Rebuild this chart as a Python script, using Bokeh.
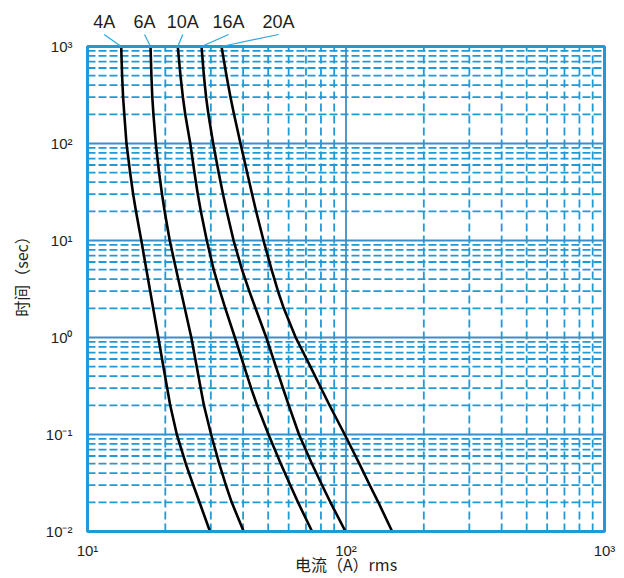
import numpy as np
from bokeh.plotting import figure
from bokeh.models import FixedTicker, CustomJSTickFormatter, Range1d
from bokeh.core.properties import value
from bokeh.embed import file_html
from bokeh.resources import INLINE

# ---------------- data ----------------
time_s = [1000, 500, 300, 200, 100, 50, 30, 20, 10, 5, 3, 2, 1,
          0.5, 0.3, 0.2, 0.1, 0.05, 0.03, 0.02, 0.01]
current_4A = [13.50, 13.61, 13.73, 13.88, 14.15, 14.62, 15.02, 15.40, 16.15, 16.90, 17.48,
              17.95, 18.79, 19.66, 20.34, 20.89, 22.16, 24.00, 25.66, 27.12, 29.78]
current_6A = [17.53, 17.67, 17.81, 17.99, 18.37, 18.92, 19.42, 19.88, 20.80, 22.03, 22.99,
              23.79, 25.21, 26.46, 27.41, 28.20, 30.07, 32.32, 34.31, 36.13, 40.21]
current_10A = [22.35, 22.89, 23.39, 23.88, 24.98, 25.93, 26.71, 27.44, 28.94, 30.77, 32.55,
               34.13, 37.17, 40.39, 42.95, 45.30, 50.13, 55.95, 60.89, 65.21, 73.94]
current_16A = [27.61, 28.20, 28.76, 29.36, 30.63, 32.17, 33.44, 34.56, 36.74, 39.60, 42.27,
               44.67, 49.16, 53.56, 57.05, 60.07, 65.80, 73.80, 80.84, 87.03, 99.56]
current_20A = [32.99, 34.49, 35.74, 36.88, 39.07, 41.48, 43.33, 44.90, 47.96, 51.54, 54.57,
               57.46, 63.89, 72.83, 80.11, 86.35, 98.85, 112.6, 123.6, 133.4, 150.9]
series_names = ["4A", "6A", "10A", "16A", "20A"]
series_values = [current_4A, current_6A, current_10A, current_16A, current_20A]

x_limits = (10, 1000)
y_limits = (0.01, 1000)
x_major = [10, 100, 1000]
y_major = [0.01, 0.1, 1, 10, 100, 1000]
x_major_grid = [100]
y_major_grid = [0.1, 1, 10, 100]
x_minor = [m * d for d in (10, 100) for m in range(2, 10)]
y_minor = [m * d for d in (0.01, 0.1, 1, 10, 100) for m in range(2, 10)]

# ---------------- layout (pixels) ----------------
W, H = 624, 578
DATA_W, DATA_H = 517, 485          # plotting area in px
PAD = 3                             # room for the 3px border
TOP_SPACE = 36                      # label area above the plotting area
ML, MR, MT, MB = 84, 17, 10, 44
label_dx = [-17, -6, 5, 27, 57]     # label centre offset from curve top, px
label_rise = 15                     # text bottom above plotting area, px
leader_rise = 12

BLUE = "#1f9ad6"
MAJ = "#3a8fc8"
TXT = "#231f20"

ppd_x = DATA_W / np.log10(x_limits[1] / x_limits[0])
ppd_y = DATA_H / np.log10(y_limits[1] / y_limits[0])
xr = Range1d(x_limits[0] * 10 ** (-PAD / ppd_x), x_limits[1] * 10 ** (PAD / ppd_x))
yr = Range1d(y_limits[0] * 10 ** (-PAD / ppd_y), y_limits[1] * 10 ** (TOP_SPACE / ppd_y))

p = figure(width=W, height=H, x_axis_type="log", y_axis_type="log",
           x_range=xr, y_range=yr, output_backend="svg", toolbar_location=None,
           min_border_left=ML, min_border_right=MR, min_border_top=MT, min_border_bottom=MB)
p.grid.visible = False
p.outline_line_color = None

# grid lines
n_x, n_y = len(x_minor), len(y_minor)
p.segment(x0=x_minor, y0=[y_limits[0]] * n_x, x1=x_minor, y1=[y_limits[1]] * n_x,
          line_color=BLUE, line_width=1.8, line_dash="8 4")
p.segment(x0=[x_limits[0]] * n_y, y0=y_minor, x1=[x_limits[1]] * n_y, y1=y_minor,
          line_color=BLUE, line_width=1.8, line_dash="8 3")
p.segment(x0=x_major_grid, y0=[y_limits[0]] * len(x_major_grid), x1=x_major_grid,
          y1=[y_limits[1]] * len(x_major_grid), line_color=MAJ, line_width=1.8)
p.segment(x0=[x_limits[0]] * len(y_major_grid), y0=y_major_grid,
          x1=[x_limits[1]] * len(y_major_grid), y1=y_major_grid, line_color=MAJ, line_width=1.8)

# curves
for vals in series_values:
    p.line(vals, time_s, line_color="black", line_width=2.6, line_join="round")

# border of plotting area
p.quad(left=[x_limits[0]], right=[x_limits[1]], bottom=[y_limits[0]], top=[y_limits[1]],
       fill_color=None, line_color=BLUE, line_width=3)

# labels and leader lines
tops = [v[0] for v in series_values]
lab_x = [t * 10 ** (dx / ppd_x) for t, dx in zip(tops, label_dx)]
p.segment(x0=tops, y0=[y_limits[1]] * len(tops), x1=lab_x,
          y1=[y_limits[1] * 10 ** (leader_rise / ppd_y)] * len(tops),
          line_color="#29a8e0", line_width=1.2)
p.text(x=lab_x, y=[y_limits[1] * 10 ** (label_rise / ppd_y)] * len(tops), text=series_names,
       text_align="center", text_baseline="bottom", text_font=value("Liberation Sans"),
       text_font_size="18px", text_color=TXT)

# axes
fmt = CustomJSTickFormatter(code="""
const e = Math.round(Math.log10(tick));
const sup = {"-":"\u207b","0":"\u2070","1":"\u00b9","2":"\u00b2","3":"\u00b3"};
return "10" + String(e).split("").map(c => sup[c]).join("");
""")
p.xaxis.ticker = FixedTicker(ticks=x_major)
p.yaxis.ticker = FixedTicker(ticks=y_major)
for ax in (p.xaxis[0], p.yaxis[0]):
    ax.formatter = fmt
    ax.axis_line_color = None
    ax.major_tick_line_color = None
    ax.minor_tick_line_color = None
    ax.major_label_text_font = "Liberation Sans"
    ax.major_label_text_font_size = "15px"
    ax.major_label_text_color = TXT
    ax.axis_label_text_font = "Noto Sans CJK SC"
    ax.axis_label_text_font_size = "16px"
    ax.axis_label_text_font_style = "normal"
    ax.axis_label_text_color = TXT
p.xaxis.major_label_standoff = 1
p.yaxis.major_label_standoff = 6
p.xaxis.axis_label = "电流（A）rms"
p.yaxis.axis_label = "时间（sec）"
p.xaxis.axis_label_standoff = -10
p.yaxis.axis_label_standoff = 10

open("out.html", "w").write(file_html(p, INLINE))
